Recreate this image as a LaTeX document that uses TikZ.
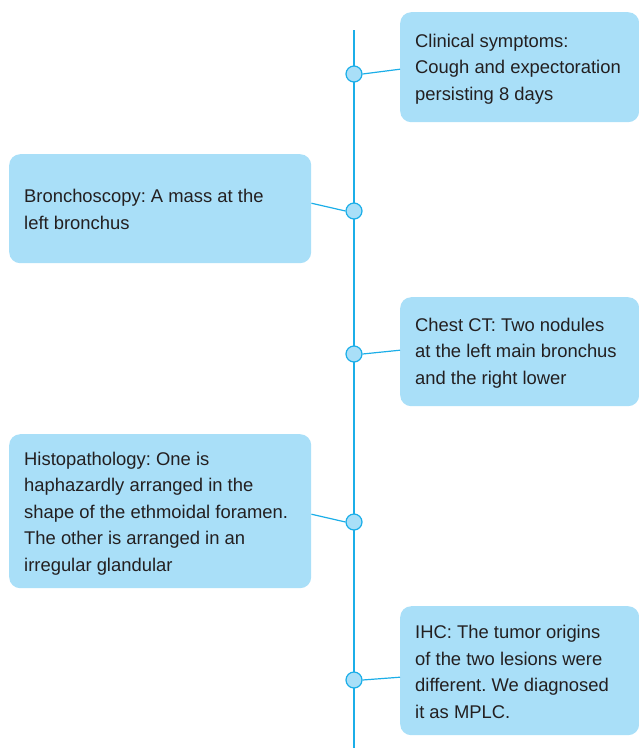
\documentclass[tikz,border=0pt]{standalone}
\usepackage{fontspec}
\setmainfont{Liberation Sans}
\frenchspacing
\definecolor{boxfill}{HTML}{A9DFF8}
\definecolor{lineblue}{HTML}{1BAEE8}
\definecolor{txt}{HTML}{231F20}
\begin{document}
\begin{tikzpicture}[x=1pt,y=-1pt,
  evbox/.style={draw=none,fill=boxfill,rounded corners=11pt,anchor=north west,inner sep=0pt},
  evtext/.style={anchor=base west,align=left,inner sep=0pt,text=txt,font=\fontsize{18.4}{26.5}\selectfont},
  dot/.style={circle,draw=lineblue,fill=boxfill,line width=1.2pt,minimum size=16pt,inner sep=0pt},
  link/.style={draw=lineblue,line width=1.2pt}]
\useasboundingbox (0,0) rectangle (639,748);
\coordinate (top) at (354,30);
\coordinate (bot) at (354,748);
\draw[link] (top) -- (bot);
% boxes
\node[evbox,minimum width=239pt,minimum height=110pt] (b1) at (400,12) {};
\node[evbox,minimum width=302pt,minimum height=109pt] (b2) at (9,154) {};
\node[evbox,minimum width=239pt,minimum height=109pt] (b3) at (400,297) {};
\node[evbox,minimum width=302pt,minimum height=154pt] (b4) at (9,434) {};
\node[evbox,minimum width=239pt,minimum height=129pt] (b5) at (400,606) {};
% dots
\node[dot] (c1) at (354,74) {};
\node[dot] (c2) at (354,211) {};
\node[dot] (c3) at (354,354) {};
\node[dot] (c4) at (354,522) {};
\node[dot] (c5) at (354,680) {};
% connectors
\draw[link] (c1.east) -- ([yshift=-2pt]b1.west);
\draw[link] (c2.west) -- ([yshift=5.5pt]b2.east);
\draw[link] (c3.east) -- ([yshift=1.5pt]b3.west);
\draw[link] (c4.west) -- ([yshift=-3pt]b4.east);
\draw[link] (c5.east) -- ([yshift=-6.5pt]b5.west);
% texts (anchored at the baseline of the last line)
\node[evtext] (t1) at (415,100) {Clinical symptoms:\\Cough and expectoration\\persisting 8 days};
\node[evtext] (t2) at (24,229) {Bronchoscopy: A mass at the\\left bronchus};
\node[evtext] (t3) at (415,384) {Chest CT: Two nodules\\at the left main bronchus\\and the right lower};
\node[evtext] (t4) at (24,571) {Histopathology: One is\\haphazardly arranged in the\\shape of the ethmoidal foramen.\\The other is arranged in an\\irregular glandular};
\node[evtext] (t5) at (415,718) {IHC: The tumor origins\\of the two lesions were\\different. We diagnosed\\it as MPLC.};
\end{tikzpicture}
\end{document}
